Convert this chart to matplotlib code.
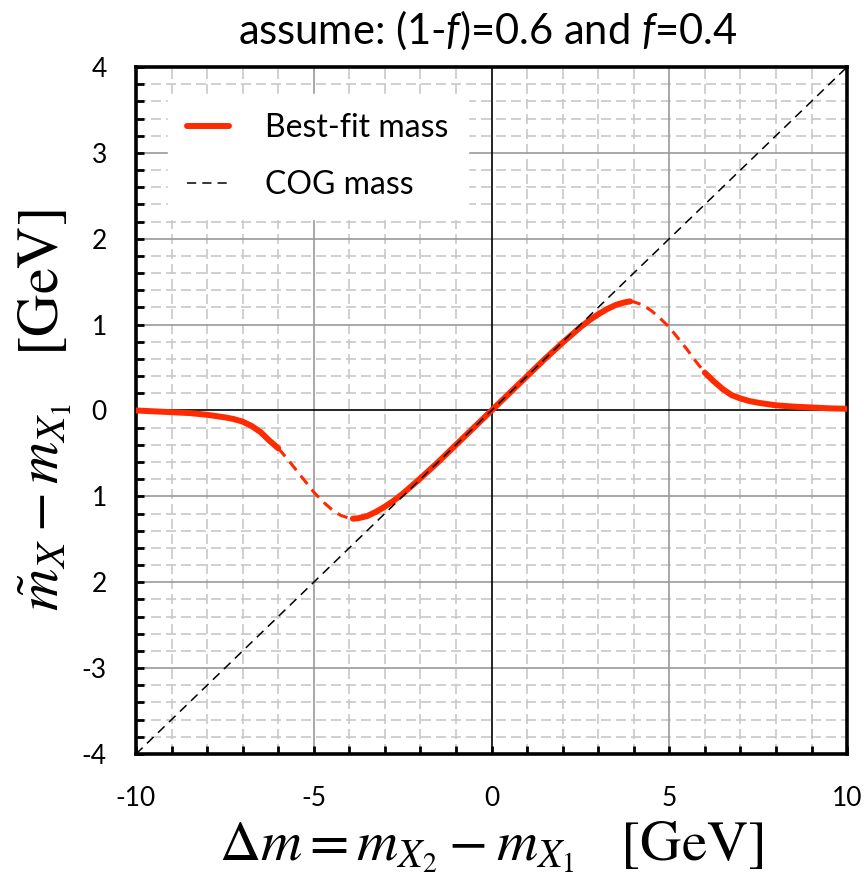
import numpy as np
import matplotlib.pyplot as plt
from matplotlib.ticker import MultipleLocator, FixedLocator

plt.rcParams['mathtext.fontset'] = 'custom'
plt.rcParams['mathtext.rm'] = 'Lato'
plt.rcParams['mathtext.it'] = 'Lato:italic'

# best-fit mass curve
dm = [-10, -9.5, -9, -8.5, -8, -7.75, -7.5, -7.25, -7, -6.75, -6.5, -6.25, -6,
      -5.75, -5.5, -5.25, -5, -4.75, -4.5, -4.25, -4, -3.9,
      -3.75, -3.5, -3.25, -3, -2.75, -2.5, -2, -1.5, -1, -0.5, 0,
      0.5, 1, 1.5, 2, 2.5, 2.75, 3, 3.25, 3.5, 3.75, 3.9,
      4, 4.25, 4.5, 4.75, 5, 5.25, 5.5, 5.75, 6,
      6.25, 6.5, 6.75, 7, 7.25, 7.5, 7.75, 8, 8.5, 9, 9.5, 10]
best_fit = [0.0, -0.01, -0.02, -0.03, -0.05, -0.065, -0.08, -0.1, -0.13, -0.18, -0.25, -0.35, -0.44,
            -0.56, -0.69, -0.82, -0.95, -1.06, -1.15, -1.22, -1.255, -1.26,
            -1.255, -1.23, -1.18, -1.12, -1.05, -0.97, -0.79, -0.6, -0.4, -0.2, 0.0,
            0.2, 0.4, 0.6, 0.79, 0.97, 1.05, 1.12, 1.18, 1.23, 1.26, 1.27,
            1.265, 1.23, 1.16, 1.07, 0.97, 0.84, 0.71, 0.57, 0.44,
            0.34, 0.25, 0.18, 0.14, 0.11, 0.09, 0.075, 0.06, 0.045, 0.035, 0.025, 0.02]
# centre-of-gravity mass: straight line
cog_x = [-10, 10]
cog_y = [-4, 4]

xticks = [-10, -5, 0, 5, 10]
xlabels = ['-10', '-5', '0', '5', '10']
yticks = [-4, -3, -2, -1, 0, 1, 2, 3, 4]
ylabels = ['-4', '-3', '2', '1', '0', '1', '2', '3', '4']  # as printed on the original

red = '#ff2a00'
fig = plt.figure(figsize=(8.64, 8.86), dpi=100)
ax = fig.add_axes([0.1574, 0.149, 0.823, 0.7754])

dm = np.array(dm)
best_fit = np.array(best_fit)
# solid where the fit is trusted, dashed in between
solid_left = dm <= -6
dash_left = (dm >= -6) & (dm <= -3.9)
solid_mid = (dm >= -3.9) & (dm <= 3.9)
dash_right = (dm >= 3.9) & (dm <= 6)
solid_right = dm >= 6

# grid
for v in np.arange(-10, 11, 1):
    if v % 5 != 0:
        ax.axvline(v, color='#c8c8c8', lw=1.2, ls=(0, (6, 3)), zorder=0)
for v in np.arange(-4, 4.01, 0.2):
    if abs(v - round(v)) > 1e-6:
        ax.axhline(v, color='#c8c8c8', lw=1.2, ls=(0, (6, 3)), zorder=0)
for v in [-5, 5]:
    ax.axvline(v, color='#9a9a9a', lw=1.2, zorder=0.5)
for v in [-3, -2, -1, 1, 2, 3]:
    ax.axhline(v, color='#9a9a9a', lw=1.2, zorder=0.5)
ax.axvline(0, color='black', lw=1.2, zorder=1)
ax.axhline(0, color='black', lw=1.2, zorder=1)

ax.plot(dm[solid_left], best_fit[solid_left], color=red, lw=4.3, solid_capstyle='round', zorder=3)
ax.plot(dm[dash_left], best_fit[dash_left], color=red, lw=2.2, ls=(0, (3.5, 2.3)), zorder=3)
ax.plot(dm[solid_mid], best_fit[solid_mid], color=red, lw=4.3, solid_capstyle='round', zorder=3,
        label='Best-fit mass')
ax.plot(dm[dash_right], best_fit[dash_right], color=red, lw=2.2, ls=(0, (3.5, 2.3)), zorder=3)
ax.plot(dm[solid_right], best_fit[solid_right], color=red, lw=4.3, solid_capstyle='round', zorder=3)
ax.plot(cog_x, cog_y, color='black', lw=1.1, ls=(0, (6, 4)), zorder=4, label='COG mass')

ax.set_xlim(-10, 10)
ax.set_ylim(-4, 4)
ax.xaxis.set_major_locator(FixedLocator(xticks))
ax.xaxis.set_minor_locator(MultipleLocator(1))
ax.yaxis.set_major_locator(FixedLocator(yticks))
ax.yaxis.set_minor_locator(MultipleLocator(0.2))
ax.set_xticklabels(xlabels)
ax.set_yticklabels(ylabels)
ax.tick_params(which='both', direction='in', length=6, width=2, top=False, right=False)
ax.tick_params(axis='x', which='major', pad=23, labelsize=19)
ax.tick_params(axis='y', which='major', pad=21, labelsize=19)
for lab in ax.get_xticklabels() + ax.get_yticklabels():
    lab.set_family('Lato')
for s in ax.spines.values():
    s.set_linewidth(2.6)

leg = ax.legend(loc='upper left', bbox_to_anchor=(0.045, 0.961), borderaxespad=0, borderpad=0.6,
                frameon=True, fancybox=False, framealpha=1, edgecolor='white',
                handlelength=1.3, handletextpad=1.15, labelspacing=0.85,
                prop={'family': 'Lato', 'size': 23})

fig.text(0.565, 0.966, r'assume: (1-$\mathit{f}$)=0.6 and $\mathit{f}$=0.4', ha='center', va='center',
         fontsize=30, family='Lato', math_fontfamily='custom')

ax.set_xlabel(r'$\Delta m = m_{X_2} - m_{X_1}\ \ \ [\mathrm{GeV}]$', fontsize=41,
              math_fontfamily='stix', va='center')
ax.xaxis.set_label_coords(0.5, -0.135)
ax.set_ylabel(r'$\tilde{m}_X - m_{X_1}\ \ \ [\mathrm{GeV}]$', fontsize=42,
              math_fontfamily='stix', va='center')
ax.yaxis.set_label_coords(-0.128, 0.5)

fig.savefig('out.png', dpi=100)
